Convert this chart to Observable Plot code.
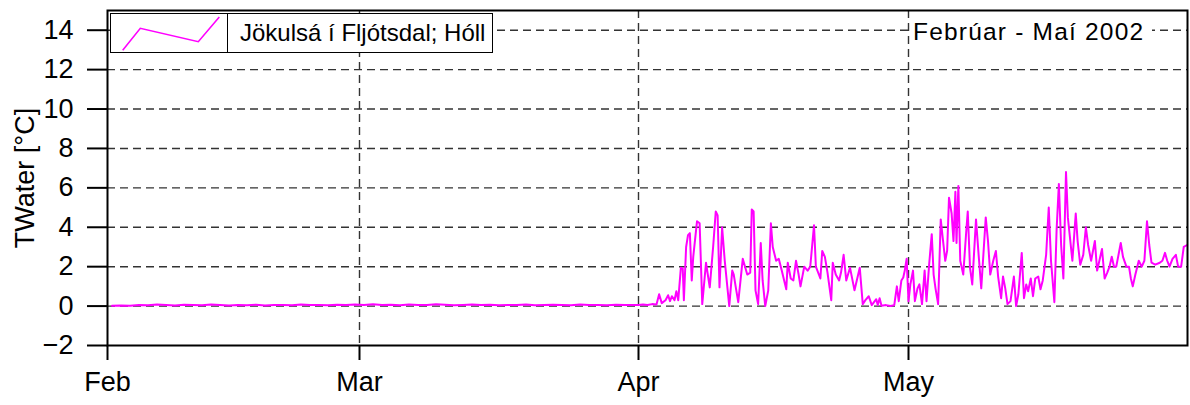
<!DOCTYPE html>
<html><head><meta charset="utf-8">
<script src="https://cdn.jsdelivr.net/npm/d3@7"></script>
<script src="https://cdn.jsdelivr.net/npm/@observablehq/plot@0.6"></script>
<style>
body{margin:0;background:#fff;}
#wrap{position:relative;width:1190px;height:405px;font-family:"Liberation Sans",Arial,sans-serif;color:#000;}
#legend{position:absolute;left:110px;top:13px;width:381px;height:38px;border:1.5px solid #000;background:#fff;display:flex;}
#legend .sw{width:116px;height:38px;border-right:1.5px solid #000;}
#legend .tx{font-size:24px;line-height:38px;padding-left:12px;white-space:nowrap;}
#title{position:absolute;left:911px;top:15px;width:239px;height:34px;background:#fff;font-size:24.5px;letter-spacing:1.2px;line-height:34px;padding-left:2px;white-space:nowrap;}
</style></head><body><div id="wrap"></div>
<script>
// ---- data ----
const seriesName = "Jökulsá í Fljótsdal; Hóll";
const titleText = "Febrúar - Maí 2002";
const yLabel = "TWater [°C]";
const monthTicks = ["2002-02-01 00", "2002-03-01 00", "2002-04-01 00", "2002-05-01 00"];
const monthLabels = ["Feb", "Mar", "Apr", "May"];
const yTicks = [-2, 0, 2, 4, 6, 8, 10, 12, 14];
const xDomain = ["2002-02-01 00", "2002-06-01 00"];

// daily readings (noon), 1 Feb - 31 Mar
const febMarTemps = [
  0.02,0.03,0.02,0.06,0.04,0.08,0.05,0.03,0.07,0.05,0.04,0.08,0.06,0.03,0.05,0.04,0.07,0.03,0.06,0.05,0.04,0.08,0.05,0.06,0.04,0.07,0.05,0.08,
  0.06,0.09,0.05,0.07,0.04,0.08,0.06,0.05,0.09,0.07,0.04,0.06,0.08,0.05,0.07,0.04,0.06,0.05,0.08,0.04,0.06,0.07,0.05,0.04,0.08,0.05,0.06,0.04,0.07,0.05,0.06
];

// April - May readings
const aprMayTimes = [
  "2002-04-01 00","2002-04-01 12",
  "2002-04-02 00","2002-04-02 12",
  "2002-04-03 00","2002-04-03 07","2002-04-03 14",
  "2002-04-04 00","2002-04-04 07","2002-04-04 12","2002-04-04 17",
  "2002-04-05 00","2002-04-05 05","2002-04-05 10","2002-04-05 17","2002-04-05 22",
  "2002-04-06 01","2002-04-06 07","2002-04-06 12","2002-04-06 17","2002-04-06 22",
  "2002-04-07 02","2002-04-07 12","2002-04-07 19",
  "2002-04-08 02","2002-04-08 12","2002-04-08 22",
  "2002-04-09 07","2002-04-09 14","2002-04-09 19",
  "2002-04-10 00","2002-04-10 07","2002-04-10 14",
  "2002-04-11 02","2002-04-11 10","2002-04-11 14","2002-04-11 19",
  "2002-04-12 02","2002-04-12 14",
  "2002-04-13 02","2002-04-13 10","2002-04-13 14","2002-04-13 19",
  "2002-04-14 00","2002-04-14 07","2002-04-14 14","2002-04-14 19",
  "2002-04-15 02","2002-04-15 10","2002-04-15 17","2002-04-15 22",
  "2002-04-16 07","2002-04-16 14","2002-04-16 22",
  "2002-04-17 10","2002-04-17 14","2002-04-17 22",
  "2002-04-18 05","2002-04-18 12","2002-04-18 19",
  "2002-04-19 00","2002-04-19 10","2002-04-19 19",
  "2002-04-20 02","2002-04-20 12","2002-04-20 17",
  "2002-04-21 05","2002-04-21 10","2002-04-21 17",
  "2002-04-22 00","2002-04-22 10","2002-04-22 14","2002-04-22 22",
  "2002-04-23 07","2002-04-23 12","2002-04-23 19",
  "2002-04-24 02","2002-04-24 12",
  "2002-04-25 00","2002-04-25 14","2002-04-25 22",
  "2002-04-26 05","2002-04-26 14","2002-04-26 22",
  "2002-04-27 10","2002-04-27 14","2002-04-27 19",
  "2002-04-28 00","2002-04-28 12",
  "2002-04-29 00","2002-04-29 10","2002-04-29 17","2002-04-29 22",
  "2002-04-30 05","2002-04-30 10","2002-04-30 14","2002-04-30 19",
  "2002-05-01 00","2002-05-01 05","2002-05-01 12","2002-05-01 17",
  "2002-05-02 00","2002-05-02 05","2002-05-02 12","2002-05-02 19",
  "2002-05-03 00","2002-05-03 07","2002-05-03 14","2002-05-03 19",
  "2002-05-04 00","2002-05-04 07","2002-05-04 14","2002-05-04 19",
  "2002-05-05 02","2002-05-05 07","2002-05-05 12","2002-05-05 19",
  "2002-05-06 00","2002-05-06 05","2002-05-06 08","2002-05-06 13","2002-05-06 18",
  "2002-05-07 02","2002-05-07 10","2002-05-07 14","2002-05-07 20",
  "2002-05-08 02","2002-05-08 12","2002-05-08 19",
  "2002-05-09 02","2002-05-09 14","2002-05-09 20",
  "2002-05-10 02","2002-05-10 10","2002-05-10 17","2002-05-10 23",
  "2002-05-11 07","2002-05-11 12","2002-05-11 18",
  "2002-05-12 00","2002-05-12 08","2002-05-12 17","2002-05-12 23",
  "2002-05-13 05","2002-05-13 14","2002-05-13 20",
  "2002-05-14 02","2002-05-14 07","2002-05-14 14","2002-05-14 20",
  "2002-05-15 02","2002-05-15 10","2002-05-15 16","2002-05-15 22",
  "2002-05-16 07","2002-05-16 14","2002-05-16 20",
  "2002-05-17 05","2002-05-17 11","2002-05-17 17","2002-05-17 23",
  "2002-05-18 05","2002-05-18 12","2002-05-18 17",
  "2002-05-19 05","2002-05-19 14","2002-05-19 19",
  "2002-05-20 02","2002-05-20 10","2002-05-20 17","2002-05-20 23",
  "2002-05-21 07","2002-05-21 17","2002-05-21 23",
  "2002-05-22 05","2002-05-22 12","2002-05-22 19",
  "2002-05-23 02","2002-05-23 08","2002-05-23 14","2002-05-23 20",
  "2002-05-24 02","2002-05-24 14","2002-05-24 20",
  "2002-05-25 05","2002-05-25 12","2002-05-25 17","2002-05-25 22",
  "2002-05-26 05","2002-05-26 14","2002-05-26 22",
  "2002-05-27 05","2002-05-27 12","2002-05-27 18",
  "2002-05-28 00","2002-05-28 10","2002-05-28 22",
  "2002-05-29 05","2002-05-29 12","2002-05-29 18",
  "2002-05-30 00","2002-05-30 08","2002-05-30 17","2002-05-30 23",
  "2002-05-31 07","2002-05-31 14","2002-05-31 23"
];
const aprMayTemps = [
  0.05,0.08,
  0.06,0.1,
  0.08,0.6,0.15,
  0.3,0.55,0.25,0.5,
  0.3,0.75,0.3,1.95,1.9,
  0.3,3.0,3.6,3.7,1.3,
  2.5,4.3,4.2,
  0.1,2.2,0.95,
  3.0,4.8,4.6,
  0.95,4.0,2.3,
  0.0,1.8,1.6,1.0,
  0.2,2.4,
  1.6,1.7,4.9,4.8,
  0.8,0.1,3.2,1.3,
  0.0,0.8,4.2,3.0,
  2.3,2.4,1.8,
  0.85,2.2,1.4,
  1.3,2.3,1.6,
  1.0,2.0,1.8,
  2.0,4.1,2.0,
  1.4,2.8,2.5,
  1.7,0.3,2.2,1.6,
  1.3,1.7,2.6,
  1.3,1.95,
  0.8,1.95,0.1,
  0.3,0.5,0.05,
  0.35,0.05,0.4,
  0.02,0.05,
  0.0,0.05,1.0,0.25,
  1.3,1.45,1.8,2.4,
  0.25,1.1,1.8,0.25,
  0.9,1.1,0.1,1.8,
  0.25,2.1,3.65,1.6,
  0.9,0.1,4.4,3.5,
  2.3,2.8,5.5,4.7,
  3.3,5.8,3.2,6.1,2.3,
  1.6,3.8,4.8,1.95,
  1.1,4.4,2.6,
  0.9,4.5,3.3,
  1.6,2.3,2.8,1.5,
  0.4,1.5,0.9,
  0.1,0.25,1.5,0.0,
  0.6,2.7,0.4,
  1.1,0.75,1.4,0.5,
  1.4,1.5,0.85,1.3,
  2.6,5.0,2.3,
  0.2,3.9,6.2,3.1,
  1.4,6.8,4.5,
  2.3,4.7,3.3,
  2.1,2.6,4.0,3.1,
  2.3,3.3,1.8,
  2.3,2.9,1.4,
  1.7,2.0,2.5,2.0,
  2.0,3.2,2.5,
  2.0,2.0,1.4,1.0,
  1.6,2.3,2.0,
  2.3,4.3,3.1,
  2.2,2.1,2.2,
  2.3,2.7,2.3,
  2.0,2.4,2.6,2.0,
  2.0,3.0,3.1
];

// ---- build table ----
const parse = d3.utcParse("%Y-%m-%d %H");
const rows = [];
const feb1 = parse("2002-02-01 12");
febMarTemps.forEach((v, i) => rows.push({t: d3.utcDay.offset(feb1, i), v}));
aprMayTimes.forEach((s, i) => rows.push({t: parse(s), v: aprMayTemps[i]}));
const monthDates = monthTicks.map(parse);

const gridStyle = {stroke: "#333", strokeOpacity: 1, strokeWidth: 1.4, strokeDasharray: "8,5"};

const chart = Plot.plot({
  width: 1190, height: 405,
  marginLeft: 107, marginRight: 3, marginTop: 10, marginBottom: 60,
  style: {fontFamily: "'Liberation Sans', Arial, sans-serif", fontSize: "27px", color: "#000", background: "#fff", overflow: "visible"},
  x: {type: "utc", domain: xDomain.map(parse)},
  y: {domain: [-2, 15]},
  marks: [
    Plot.gridX(monthDates.slice(1), gridStyle),
    Plot.gridY(yTicks.filter(v => v > -2), gridStyle),
    Plot.line(rows, {x: "t", y: "v", stroke: "#ff00ff", strokeWidth: 2}),
    Plot.axisX(monthDates, {tickSize: 15, tickPadding: 11, strokeWidth: 2, tickFormat: (d, i) => monthLabels[i], label: null}),
    Plot.axisY(yTicks, {tickSize: 20, tickPadding: 14, strokeWidth: 2, label: yLabel, labelAnchor: "center", labelArrow: false, labelOffset: 93}),
    Plot.frame({stroke: "#000", strokeWidth: 2})
  ]
});

const wrap = document.getElementById("wrap");
wrap.appendChild(chart);

// legend
const lg = document.createElement("div");
lg.id = "legend";
lg.innerHTML = `<div class="sw"><svg width="116" height="38"><polyline points="11.7,36.3 29.3,14.3 87.3,27.7 108.3,3" fill="none" stroke="#ff00ff" stroke-width="1.6"/></svg></div><div class="tx"></div>`;
lg.querySelector(".tx").textContent = seriesName;
wrap.appendChild(lg);

// title
const tt = document.createElement("div");
tt.id = "title";
tt.textContent = titleText;
wrap.appendChild(tt);
</script></body></html>
